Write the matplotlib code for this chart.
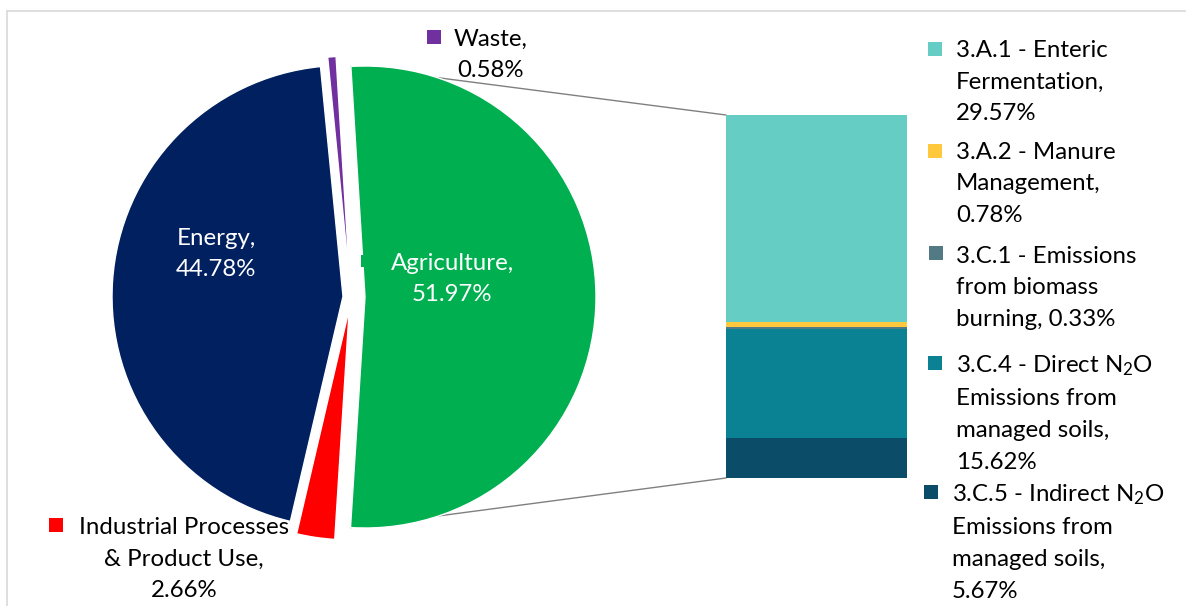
import matplotlib
matplotlib.use("Agg")
import matplotlib.pyplot as plt
from matplotlib.patches import Rectangle, ConnectionPatch
from matplotlib.lines import Line2D
import numpy as np

plt.rcParams["font.family"] = ["Lato", "DejaVu Sans"]
plt.rcParams["mathtext.fontset"] = "custom"
plt.rcParams["mathtext.rm"] = "Lato"
plt.rcParams["mathtext.default"] = "regular"

# ── 部門別排出量の割合 (%) ──
SECTORS = ["Energy", "Industrial Processes\n& Product Use", "Agriculture", "Waste"]
SECTOR_SHARE = [44.78, 2.66, 51.97, 0.58]
SECTOR_COLORS = ["#002060", "#FF0000", "#00B050", "#7030A0"]
SECTOR_EXPLODE = [8, 12, 14, 10]   # px

# ── 農業の内訳 (%)：下から積み上げ ──
AGRI_CATS = [
    "3.C.5 - Indirect N$_2$O\nEmissions from\nmanaged soils,",
    "3.C.4 - Direct N$_2$O\nEmissions from\nmanaged soils,",
    "3.C.1 - Emissions\nfrom biomass\nburning,",
    "3.A.2 - Manure\nManagement,",
    "3.A.1 - Enteric\nFermentation,",
]
AGRI_SHARE = [5.67, 15.62, 0.33, 0.78, 29.57]
AGRI_COLORS = ["#0B4D68", "#0B8294", "#527A85", "#FFC83D", "#66CDC5"]

W, H = 1186, 606
FS = 17.3
LS = 1.63

fig = plt.figure(figsize=(W / 100, H / 100), dpi=100)
ax = fig.add_axes([0, 0, 1, 1])

wedges, _ = ax.pie(
    SECTOR_SHARE, colors=SECTOR_COLORS, explode=SECTOR_EXPLODE,
    startangle=95.6, counterclock=True, radius=231, center=(351, 309),
    wedgeprops=dict(edgecolor="white", linewidth=1),
)
ax.set_xlim(0, W)
ax.set_ylim(0, H)
ax.set_aspect("equal")
ax.axis("off")


def key(x, y, color, size=14):
    ax.add_patch(Rectangle((x - size / 2, y - size / 2), size, size,
                           facecolor=color, edgecolor="none", zorder=5))


def pct(v):
    return f"{v:.2f}%"


# 円グラフのラベル
ax.text(216, 352, f"Energy,\n{pct(SECTOR_SHARE[0])}", color="white",
        fontsize=FS, ha="center", va="center", linespacing=LS, zorder=6)
key(367, 345, SECTOR_COLORS[2], 12)
ax.text(452, 327, f"Agriculture,\n{pct(SECTOR_SHARE[2])}", color="white",
        fontsize=FS, ha="center", va="center", linespacing=LS, zorder=6)
key(434, 569, SECTOR_COLORS[3])
ax.text(491, 551, f"Waste,\n{pct(SECTOR_SHARE[3])}", color="black",
        fontsize=FS, ha="center", va="center", linespacing=LS, zorder=6)
key(56, 81, SECTOR_COLORS[1])
ax.text(184, 47, f"{SECTORS[1]},\n{pct(SECTOR_SHARE[1])}", color="black",
        fontsize=FS, ha="center", va="center", linespacing=LS, zorder=6)

# 農業の内訳（積み上げ棒）
bax = fig.add_axes([726 / W, (H - 478) / H, 181 / W, 363 / H])
bottoms = np.concatenate([[0], np.cumsum(AGRI_SHARE)[:-1]])
bax.bar(0, AGRI_SHARE, bottom=bottoms, width=1.0, color=AGRI_COLORS)
bax.set_xlim(-0.5, 0.5)
bax.set_ylim(0, sum(AGRI_SHARE))
bax.axis("off")

# 棒グラフ側のラベル（上から）
label_pos = [
    (930.5, 492, 952, 64),
    (934.5, 362.5, 956, 193),
    (935.5, 252.5, 956, 318),
    (934.5, 150.5, 956, 422),
    (934.5, 48.5, 956, 524),
]
for cat, v, c, (kx, ky, tx, ty) in zip(AGRI_CATS, AGRI_SHARE, AGRI_COLORS, label_pos):
    key(kx, H - ky, c)
    if cat.endswith("burning,"):
        txt = f"{cat} {pct(v)}"
    else:
        txt = f"{cat}\n{pct(v)}"
    ax.text(tx, ty, txt, fontsize=FS, ha="left", va="center",
            linespacing=LS, zorder=6)

# 円グラフと棒グラフをつなぐ線
agri = wedges[2]
cx, cy = agri.center
r = agri.r
for theta, yb in [(agri.theta2, 1), (agri.theta1, 0)]:
    xa = cx + r * np.cos(np.radians(theta))
    ya = cy + r * np.sin(np.radians(theta))
    con = ConnectionPatch(xyA=(xa, ya), coordsA="data", axesA=ax,
                          xyB=(0, yb), coordsB="axes fraction", axesB=bax,
                          color="#808080", linewidth=1, zorder=0)
    ax.add_artist(con)

# グラフエリアの枠
fig.add_artist(Line2D([7 / W, 1], [1 - 11 / H, 1 - 11 / H], color="#D9D9D9", lw=1.2))
fig.add_artist(Line2D([7 / W, 7 / W], [0, 1 - 11 / H], color="#D9D9D9", lw=1.2))

fig.savefig("out.png", dpi=100)
